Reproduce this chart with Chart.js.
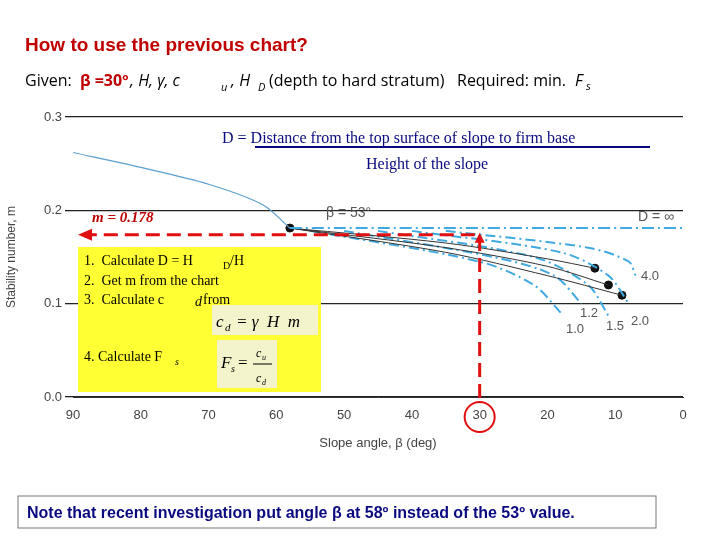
<!DOCTYPE html><html><head><meta charset="utf-8"><script src="https://cdn.jsdelivr.net/npm/chart.js@4"></script>
<style>body{margin:0;background:#fff}</style></head><body><canvas id="c" width="720" height="540" style="width:720px;height:540px"></canvas>
<script>
const xTicks=[90,80,70,60,50,40,30,20,10,0];
const yTicks=[0.0,0.1,0.2,0.3];
const mainCurve=[[90,0.262],[80,0.246],[70,0.228],[62,0.206],[58,0.181]];
const dInf=[[58,0.181],[0,0.181]];
const black1=[[58,0.181],[35,0.165],[20,0.148],[13,0.138]];
const black2=[[58,0.181],[35,0.16],[20,0.14],[11,0.12]];
const black3=[[58,0.181],[35,0.155],[20,0.13],[9,0.109]];
const blue10=[[55,0.178],[30,0.145],[22,0.12],[18,0.09]];
const blue12=[[50,0.178],[28,0.15],[19,0.13],[15,0.1]];
const blue15=[[45,0.178],[22,0.15],[14,0.12],[11,0.087]];
const blue20=[[40,0.178],[18,0.155],[11,0.13],[8,0.1]];
const blue40=[[35,0.178],[14,0.16],[8,0.145],[7,0.13]];
const dots=[[13,0.138],[11,0.12],[9,0.109],[58,0.181]];
const mVal=0.178, betaVal=30;
const P=a=>a.map(p=>({x:p[0],y:p[1]}));
const ln=(d,c,w,dash)=>({type:'line',data:P(d),borderColor:c,borderWidth:w,borderDash:dash||[],pointRadius:0,tension:0.3,fill:false});
const blue='#3fa9e0';
const overlay={id:'ov',afterDraw(ch){
 const g=ch.ctx,xs=ch.scales.x,ys=ch.scales.y;
 g.save();
 g.fillStyle='#c00000';g.font='bold 19px "Liberation Sans"';g.fillText('How to use the previous chart?',25,51);
 g.fillStyle='#000';g.font='16px "Open Sans"';g.fillText('Given: ',25,86);
 g.fillStyle='#c00000';g.font='bold 16px "Open Sans"';g.fillText('β =30º',80,86);
 g.fillStyle='#000';g.font='italic 16px "Open Sans"';g.fillText(', H, γ, c',130,86);
 g.fillText(', H',231,86);g.font='italic 11px "Open Sans"';g.fillText('u',221,91);g.fillText('D',258,91);
 g.font='16px "Open Sans"';g.fillText('(depth to hard stratum)',269,86);
 g.fillText('Required: min. ',457,86);g.font='italic 16px "Open Sans"';g.fillText('F',575,86);g.font='italic 11px "Open Sans"';g.fillText('s',586,90);
 g.fillStyle='#fff';g.fillRect(215,128,435,20);g.fillRect(358,152,158,22);
 g.fillStyle='#0a0a80';g.font='16px "Liberation Serif"';
 g.fillText('D = Distance from the top surface of slope to firm base',222,143);
 g.fillText('Height of the slope',366,169);
 g.strokeStyle='#0a0a80';g.lineWidth=2;g.beginPath();g.moveTo(255,147);g.lineTo(650,147);g.stroke();
 g.fillStyle='#ffff33';g.fillRect(78,247,243,145);
 g.fillStyle='#000';g.font='14px "Liberation Serif"';
 g.fillText('1.  Calculate D = H',84,265);g.font='10px "Liberation Serif"';g.fillText('D',223,269);g.font='14px "Liberation Serif"';g.fillText('/H',230,265);
 g.fillText('2.  Get m from the chart',84,285);g.fillText('3.  Calculate c',84,304);g.font='italic 14px "Liberation Serif"';g.fillText('d',195,306);g.font='14px "Liberation Serif"';g.fillText('from',203,304);
 g.fillText('4. Calculate F',84,361);g.font='italic 10px "Liberation Serif"';g.fillText('s',175,365);
 g.fillStyle='#f4f4cc';g.fillRect(212,305,106,30);g.fillRect(217,340,60,48);
 g.fillStyle='#000';g.font='italic 17px "Liberation Serif"';g.fillText('c',216,327);g.font='italic 11px "Liberation Serif"';g.fillText('d',225,331);
 g.font='italic 17px "Liberation Serif"';g.fillText('= γ  H  m',236,327);
 g.fillText('F',221,368);g.font='italic 10px "Liberation Serif"';g.fillText('s',231,372);g.font='17px "Liberation Serif"';g.fillText('=',238,368);
 g.font='italic 12px "Liberation Serif"';g.fillText('c',256,357);g.fillText('c',256,382);g.font='italic 8px "Liberation Serif"';g.fillText('u',262,360);g.fillText('d',262,385);
 g.beginPath();g.lineWidth=1;g.strokeStyle='#000';g.moveTo(253,364);g.lineTo(272,364);g.stroke();
 g.fillStyle='#c00000';g.font='bold italic 15px "Liberation Serif"';g.fillText('m = 0.178',92,222);
 const X=xs.getPixelForValue(betaVal),Y=ys.getPixelForValue(mVal);
 g.strokeStyle='#e01010';g.lineWidth=3;g.setLineDash([14,7]);
 g.beginPath();g.moveTo(X,398);g.lineTo(X,Y+4);g.lineTo(88,Y+4);g.stroke();g.setLineDash([]);
 g.fillStyle='#e01010';g.beginPath();g.moveTo(78,Y+4);g.lineTo(92,Y-2);g.lineTo(92,Y+10);g.fill();
 g.beginPath();g.moveTo(X,Y+2);g.lineTo(X-5,Y+12);g.lineTo(X+5,Y+12);g.fill();
 g.strokeStyle='#e01010';g.lineWidth=2;g.beginPath();g.arc(X,ys.getPixelForValue(0)+20,15,0,7);g.stroke();
 g.fillStyle='#555';g.font='14px "Liberation Sans"';g.fillText('β = 53°',326,217);g.fillText('D = ∞',638,221);
 g.font='13px "Liberation Sans"';g.fillText('4.0',641,280);g.fillText('1.2',580,317);g.fillText('1.0',566,333);g.fillText('1.5',606,330);g.fillText('2.0',631,325);
 g.strokeStyle='#777';g.lineWidth=1;g.strokeRect(18,496,638,32);
 g.fillStyle='#0a0a80';g.font='bold 16px "Liberation Sans"';g.fillText('Note that recent investigation put angle β at 58º instead of the 53º value.',27,518);
 g.restore();
}};
new Chart(document.getElementById('c'),{type:'scatter',data:{datasets:[
 ln(mainCurve,'#5aa0d0',1.2),ln(dInf,blue,2,[12,4,2,4]),
 ln(black1,'#333',1),ln(black2,'#333',1),ln(black3,'#333',1),
 ln(blue10,blue,2,[10,4,2,4]),ln(blue12,blue,2,[10,4,2,4]),ln(blue15,blue,2,[10,4,2,4]),ln(blue20,blue,2,[10,4,2,4]),ln(blue40,blue,2,[10,4,2,4]),
 {type:'scatter',data:P(dots),pointRadius:4,backgroundColor:'#111',borderColor:'#111'}
]},plugins:[overlay],options:{responsive:false,animation:false,maintainAspectRatio:false,devicePixelRatio:1,
 layout:{padding:{top:117,right:37,bottom:85,left:0}},
 plugins:{legend:{display:false},tooltip:{enabled:false}},
 scales:{x:{type:'linear',reverse:true,min:0,max:90,afterBuildTicks:s=>{s.ticks=xTicks.map(v=>({value:v}))},
   grid:{display:false},border:{color:'#333'},ticks:{color:'#444',font:{size:13}},
   title:{display:true,text:'Slope angle, β (deg)',color:'#444',font:{size:13}},afterFit:s=>{s.height=58}},
  y:{min:0,max:0.3,afterBuildTicks:s=>{s.ticks=yTicks.map(v=>({value:v}))},
   grid:{color:'#222',lineWidth:1.3},border:{display:false},ticks:{color:'#444',font:{size:13},callback:v=>v.toFixed(1)},
   title:{display:true,text:'Stability number, m',color:'#444',font:{size:12}},afterFit:s=>{s.width=73}}}}});
</script></body></html>
